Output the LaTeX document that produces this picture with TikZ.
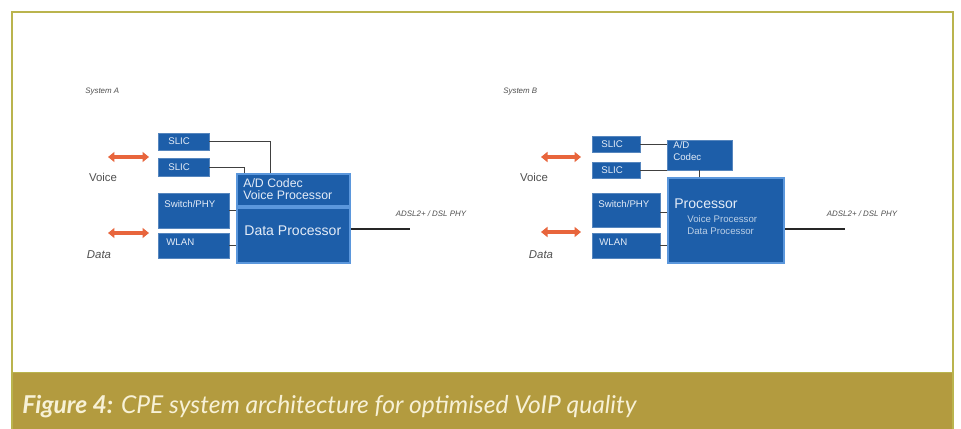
\documentclass[tikz,border=0pt]{standalone}
\usepackage{fontspec}
\setmainfont{Liberation Sans}
\newfontfamily\capfont{Lato}
\usetikzlibrary{positioning}
\usetikzlibrary{fit}
\usetikzlibrary{arrows.meta}

\definecolor{boxblue}{HTML}{1D5EA9}
\definecolor{haloblue}{HTML}{5B97DC}
\definecolor{boxtext}{HTML}{E4ECF7}
\definecolor{voiceorange}{HTML}{E8653C}
\definecolor{frameolive}{HTML}{BAB44E}
\definecolor{bandgold}{HTML}{B39B3F}
\definecolor{captext}{HTML}{F7F1D6}
\definecolor{labelgray}{HTML}{505050}

\tikzset{
  smallbox/.style={fill=boxblue, draw=boxblue!75!white, line width=0.4pt, inner sep=0pt},
  bigbox/.style={fill=boxblue, draw=haloblue, line width=0.05cm, inner sep=0pt},
  boxtxt/.style={anchor=west, text=boxtext, inner sep=0pt, font=\fontsize{5.5}{6}\selectfont},
  bigtxt/.style={anchor=west, text=boxtext, inner sep=0pt, align=left, font=\fontsize{7}{8}\selectfont},
  sidetxt/.style={text=labelgray, inner sep=0pt, font=\fontsize{6.5}{7}\selectfont},
  tinytxt/.style={text=labelgray, inner sep=0pt, font=\fontsize{4.5}{5}\selectfont\itshape},
  wire/.style={draw=black!75, line width=0.5pt},
  uplink/.style={draw=black!85, line width=1.1pt},
  bothways/.style={voiceorange, line width=0.08cm, {Triangle[width=0.2cm,length=0.13cm]}-{Triangle[width=0.2cm,length=0.13cm]}}
}

\begin{document}
\begin{tikzpicture}[x=0.02cm, y=-0.02cm]

\useasboundingbox (0,0) rectangle (961,429);
\fill[white] (0,0) rectangle (961,429);

% frame and caption band
\draw[frameolive, line width=0.04cm] (12,12) rectangle (953,373);
\fill[bandgold] (11,373) rectangle (954,429);
\draw[frameolive, line width=0.04cm] (12,373)--(12,429);
\draw[frameolive, line width=0.04cm] (953,373)--(953,429);

\node[anchor=west, text=captext, inner sep=0pt, font=\capfont\fontsize{14}{16}\selectfont\itshape] (caption) at (22,407)
  {\textbf{Figure 4:} CPE system architecture for optimised VoIP quality};

% ---------------- System A ----------------
\begin{scope}
{
\node[tinytxt, anchor=west] (titleA) at (85,92) {System A};

\node[smallbox, fit={(158,133) (209,150)}] (slicA1) {};
\node[smallbox, fit={(158,158) (209,176)}] (slicA2) {};
\node[smallbox, fit={(158,193) (229,228)}] (swA) {};
\node[smallbox, fit={(158,233) (229,258)}] (wlanA) {};

\node[bigbox, fit={(237,174) (350,206)}] (codecA) {};
\node[bigbox, fit={(237,208) (350,263)}] (dataA) {};

\node[boxtxt] (tSlicA1) at (168,141) {SLIC};
\node[boxtxt] (tSlicA2) at (168,167) {SLIC};
\node[boxtxt] (tSwA) at (164,204) {Switch/PHY};
\node[boxtxt] (tWlanA) at (166,242) {WLAN};
\node[bigtxt] (tCodecA) at (243,189) {A/D Codec\\[-1pt]Voice Processor};
\node[bigtxt, font=\fontsize{8}{9}\selectfont] (tDataA) at (244,231) {Data Processor};

\draw[wire] (slicA1.east) -| ([xshift=0.7cm]codecA.north west);
\draw[wire] (slicA2.east) -| ([xshift=0.18cm]codecA.north west);
\draw[wire] (swA.east) -- (swA.east -| dataA.west);
\draw[wire] (wlanA.east) -- (wlanA.east -| dataA.west);

\coordinate (outA) at (410,229);
\draw[uplink] (dataA.east |- outA) -- (outA);
\node[tinytxt] (adslA) at (431,214) {ADSL2+ / DSL PHY};

\coordinate (voiceAl) at (108,157);
\coordinate (voiceAr) at (149,157);
\coordinate (dataAl) at (108,233);
\coordinate (dataAr) at (149,233);
\draw[bothways] (voiceAl) -- (voiceAr);
\draw[bothways] (dataAl) -- (dataAr);

\node[sidetxt] (voiceA) at (103,177) {Voice};
\node[sidetxt, font=\fontsize{6.5}{7}\selectfont\itshape] (dataAtxt) at (99,255) {Data};
}
\end{scope}

% ---------------- System B ----------------
\begin{scope}
{
\node[tinytxt, anchor=west] (titleB) at (503,92) {System B};

\node[smallbox, fit={(592,136) (640,152)}] (slicB1) {};
\node[smallbox, fit={(592,162) (640,178)}] (slicB2) {};
\node[smallbox, fit={(592,193) (660,227)}] (swB) {};
\node[smallbox, fit={(592,233) (660,258)}] (wlanB) {};

\node[smallbox, fit={(667,140) (732,170)}] (codecB) {};
\node[bigbox, fit={(668,178) (784,263)}] (procB) {};

\node[boxtxt] (tSlicB1) at (601,144) {SLIC};
\node[boxtxt] (tSlicB2) at (601,170) {SLIC};
\node[boxtxt] (tSwB) at (598,204) {Switch/PHY};
\node[boxtxt] (tWlanB) at (599,242) {WLAN};
\node[boxtxt, align=left, font=\fontsize{5.5}{6.5}\selectfont] (tCodecB) at (673,151) {A/D\\Codec};
\node[bigtxt, font=\fontsize{8}{9}\selectfont] (tProcB) at (674,204) {Processor};
\node[boxtxt, text=boxtext!80!boxblue, align=left, font=\fontsize{5.5}{6.5}\selectfont] (tProcB2) at (687,225) {Voice Processor\\Data Processor};

\draw[wire] (slicB1.east) -- (slicB1.east -| codecB.west);
\draw[wire] (slicB2.east) -- (slicB2.east -| codecB.west);
\draw[wire, line width=0.8pt] (codecB.south) -- (codecB.south |- procB.north);
\draw[wire] ([yshift=-0.05cm]swB.east) -- ([yshift=-0.05cm]swB.east -| procB.west);
\draw[wire] (wlanB.east) -- (wlanB.east -| procB.west);

\coordinate (outB) at (845,229);
\draw[uplink] (procB.east |- outB) -- (outB);
\node[tinytxt] (adslB) at (862,214) {ADSL2+ / DSL PHY};

\coordinate (voiceBl) at (541,157);
\coordinate (voiceBr) at (581,157);
\coordinate (dataBl) at (541,232);
\coordinate (dataBr) at (581,232);
\draw[bothways] (voiceBl) -- (voiceBr);
\draw[bothways] (dataBl) -- (dataBr);

\node[sidetxt] (voiceB) at (534,177) {Voice};
\node[sidetxt, font=\fontsize{6.5}{7}\selectfont\itshape] (dataBtxt) at (541,255) {Data};
}
\end{scope}

\end{tikzpicture}
\end{document}
